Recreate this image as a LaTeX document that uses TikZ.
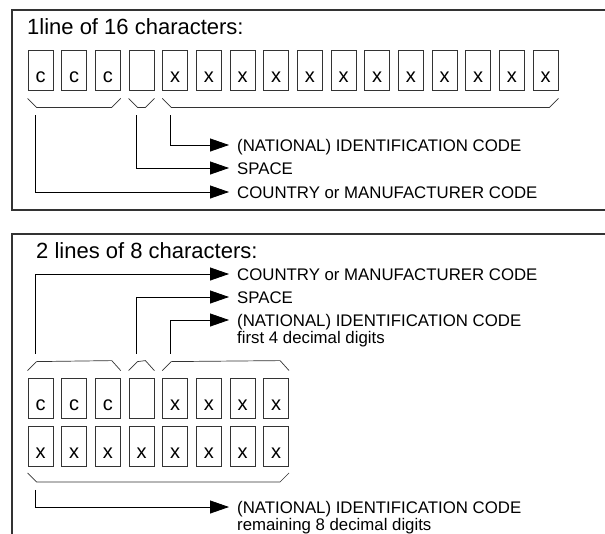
\documentclass[tikz,border=0pt]{standalone}
\usepackage{fontspec}
\setmainfont{Liberation Sans}
\usetikzlibrary{arrows.meta,calc,positioning}

\begin{document}
\begin{tikzpicture}[
    x=1pt,y=-1pt,
    cell/.style={draw=black!80,line width=0.8pt,minimum width=25pt,minimum height=40pt,
                 inner sep=0pt,text height=32pt,text depth=8pt,font=\fontsize{20}{21}\selectfont},
    brace/.style={draw=black!80,line width=0.7pt},
    conn/.style={-{Triangle[length=19pt,width=13pt]},line width=0.8pt},
    lbl/.style={anchor=west,inner xsep=8pt,inner ysep=0pt,text height=12pt,text depth=0pt,
                font=\fontsize{16.8}{18}\selectfont},
    title/.style={anchor=base west,inner sep=0pt,font=\fontsize{22}{24}\selectfont},
    frame/.style={line width=1.2pt,draw=black!80}
]
\useasboundingbox (0,0) rectangle (605,533);
\clip (0,0) rectangle (605,533);

% Frames
\draw[frame] (612,10) -- (12,10) -- (12,210) -- (612,210);
\draw[frame] (612,234) -- (12,234) -- (12,540);

% 1 line of 16 characters
\node[title] (ttl1) at (27,34) {1line of 16 characters:};
\foreach \i/\ch in {1/c,2/c,3/c,4/{},5/x,6/x,7/x,8/x,9/x,10/x,11/x,12/x,13/x,14/x,15/x,16/x}
    \node[cell] (t\i) at ({40.5+(\i-1)*33.67},70) {\ch};

\draw[brace] ([yshift=-8pt]t1.south west) -- ++(9pt,-9pt)
    -- ([xshift=-9pt,yshift=-17pt]t3.south east) -- ([yshift=-8pt]t3.south east);
\draw[brace] ([yshift=-8pt]t4.south west) -- ++(9pt,-9pt)
    -- ([xshift=-9pt,yshift=-17pt]t4.south east) -- ([yshift=-8pt]t4.south east);
\draw[brace] ([yshift=-8pt]t5.south west) -- ++(9pt,-9pt)
    -- ([xshift=-9pt,yshift=-17pt]t16.south east) -- ([yshift=-8pt]t16.south east);

\coordinate (a1) at ([xshift=8pt,yshift=-25pt]t1.south west);
\coordinate (a2) at ([xshift=8pt,yshift=-25pt]t4.south west);
\coordinate (a3) at ([xshift=8pt,yshift=-25pt]t5.south west);

\node[lbl] (id1) at (229,145) {(NATIONAL) IDENTIFICATION CODE};
\node[lbl] (sp1) at (229,168) {SPACE};
\node[lbl] (cm1) at (229,192) {COUNTRY or MANUFACTURER CODE};

\draw[conn] (a3) |- (id1.west);
\draw[conn] (a2) |- (sp1.west);
\draw[conn] (a1) |- (cm1.west);

% 2 lines of 8 characters
\node[title] (ttl2) at (36,258) {2 lines of 8 characters:};
\foreach \i/\ch in {1/c,2/c,3/c,4/{},5/x,6/x,7/x,8/x}
    \node[cell] (u\i) at ({40.5+(\i-1)*33.67},398) {\ch};
\foreach \i in {1,...,8}
    \node[cell] (w\i) at ({40.5+(\i-1)*33.67},446.5) {x};

\draw[brace] ([yshift=7pt]u1.north west) -- ++(9pt,9pt)
    -- ([xshift=-9pt,yshift=17pt]u3.north east) -- ([yshift=7pt]u3.north east);
\draw[brace] ([yshift=7pt]u4.north west) -- ++(9pt,9pt)
    -- ([xshift=-9pt,yshift=17pt]u4.north east) -- ([yshift=7pt]u4.north east);
\draw[brace] ([yshift=7pt]u5.north west) -- ++(9pt,9pt)
    -- ([xshift=-9pt,yshift=17pt]u8.north east) -- ([yshift=7pt]u8.north east);
\draw[brace] ([yshift=-6pt]w1.south west) -- ++(9pt,-9pt)
    -- ([xshift=-9pt,yshift=-15pt]w8.south east) -- ([yshift=-6pt]w8.south east);

\coordinate (b1) at ([xshift=8pt,yshift=24pt]u1.north west);
\coordinate (b2) at ([xshift=8pt,yshift=24pt]u4.north west);
\coordinate (b3) at ([xshift=8pt,yshift=24pt]u5.north west);
\coordinate (c1) at ([xshift=8pt,yshift=-23pt]w1.south west);

\node[lbl] (cm2) at (229,274) {COUNTRY or MANUFACTURER CODE};
\node[lbl] (sp2) at (229,297) {SPACE};
\node[lbl] (id2) at (229,320) {(NATIONAL) IDENTIFICATION CODE};
\node[lbl,anchor=base west] (id2b) at ([yshift=-17pt]id2.base west) {first 4 decimal digits};
\node[lbl] (id3) at (229,507) {(NATIONAL) IDENTIFICATION CODE};
\node[lbl,anchor=base west] (id3b) at ([yshift=-17pt]id3.base west) {remaining 8 decimal digits};

\draw[conn] (b1) |- (cm2.west);
\draw[conn] (b2) |- (sp2.west);
\draw[conn] (b3) |- (id2.west);
\draw[conn] (c1) |- (id3.west);

\end{tikzpicture}
\end{document}
